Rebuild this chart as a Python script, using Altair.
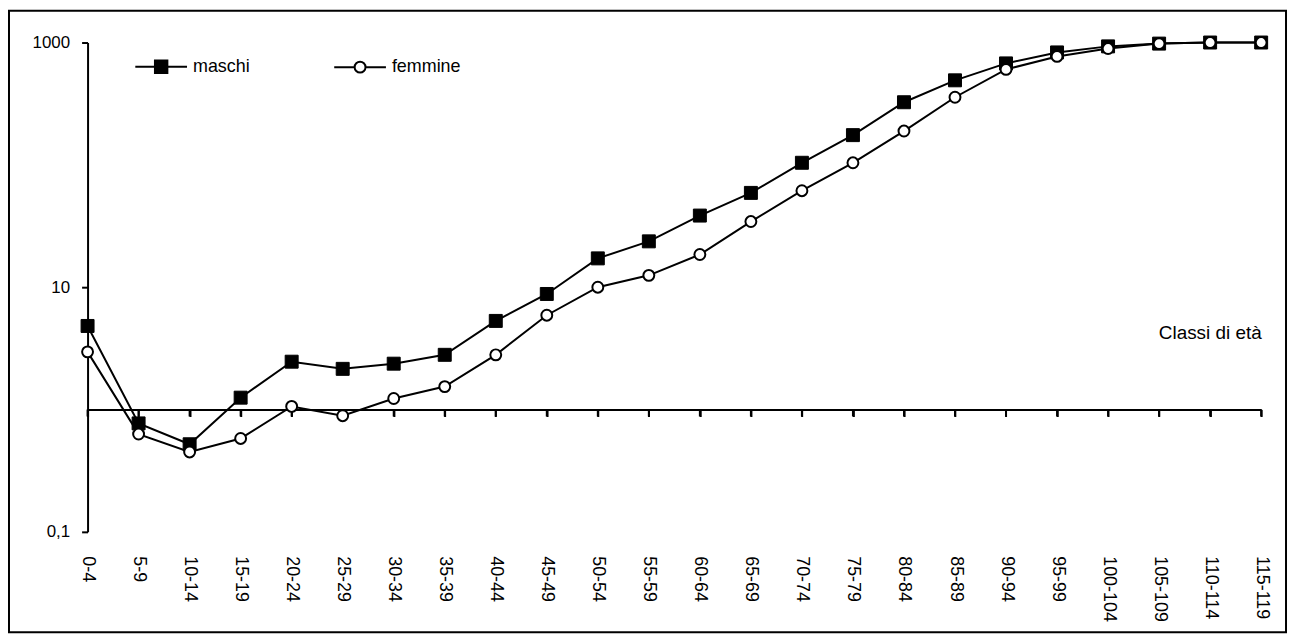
import altair as alt
import pandas as pd

classi = ["0-4", "5-9", "10-14", "15-19", "20-24", "25-29", "30-34", "35-39",
          "40-44", "45-49", "50-54", "55-59", "60-64", "65-69", "70-74", "75-79",
          "80-84", "85-89", "90-94", "95-99", "100-104", "105-109", "110-114", "115-119"]
maschi = [4.82, 0.77, 0.52, 1.25, 2.46, 2.15, 2.37, 2.80, 5.3, 8.8, 17.2, 23.7,
          38.5, 59, 104, 175, 325, 491, 675, 830, 930, 980, 1000, 1000]
femmine = [2.96, 0.63, 0.45, 0.58, 1.06, 0.89, 1.23, 1.54, 2.8, 5.9, 10.0, 12.5,
           18.5, 34.4, 61.5, 104, 189, 357, 603, 770, 893, 980, 1000, 1000]
y_ticks = [0.1, 10, 1000]
serie = ["maschi", "femmine"]

rows = []
for c, m, f in zip(classi, maschi, femmine):
    rows.append({"classe": c, "serie": "maschi", "valore": m})
    rows.append({"classe": c, "serie": "femmine", "valore": f})
df = pd.DataFrame(rows)
df_cat = pd.DataFrame({"classe": classi})

FONT = "Liberation Sans"
W, H = 1180, 492
Y1 = H * 3 / 4  # pixel position of value 1 on the log axis (0.1..1000)

x_enc = alt.X("classe:N", sort=classi,
              scale=alt.Scale(domain=classi, type="point", padding=0),
              axis=alt.Axis(orient="bottom", offset=-123, labelAngle=90,
                            labelPadding=140, ticks=True, tickSize=7, tickWidth=2,
                            domainWidth=2, domainColor="black", tickColor="black",
                            labelFont=FONT, labelFontSize=18, labelColor="black",
                            title="Classi di età", titleFont=FONT, titleFontSize=19,
                            titleFontWeight="normal", titleColor="black",
                            titleAngle=0, titleAlign="right", titleBaseline="middle",
                            titleX=W, titleY=-77, grid=False))
y_enc = alt.Y("valore:Q",
              scale=alt.Scale(type="log", domain=[0.1, 1000], nice=False),
              axis=alt.Axis(values=y_ticks, format="~g",
                            labelExpr="replace(datum.label, '.', ',')",
                            ticks=True, tickSize=6, tickWidth=2, domainWidth=2,
                            domainColor="black", tickColor="black",
                            labelFont=FONT, labelFontSize=17, labelColor="black",
                            labelPadding=12, title=None, grid=False))

base = alt.Chart(df)

lines = base.mark_line(color="black", strokeWidth=2).encode(
    x=x_enc, y=y_enc, detail="serie:N")

sq = base.transform_filter(alt.datum.serie == "maschi").mark_point(
    shape="square", filled=True, fill="black", stroke="black", strokeWidth=1,
    size=170, opacity=1).encode(x=x_enc, y=y_enc)

ci = base.transform_filter(alt.datum.serie == "femmine").mark_point(
    shape="circle", filled=True, fill="white", stroke="black", strokeWidth=2,
    size=120, opacity=1).encode(x=x_enc, y=y_enc)

ticks = alt.Chart(df_cat).mark_rule(color="black", strokeWidth=2).encode(
    x=alt.X("classe:N", sort=classi), y=alt.value(Y1), y2=alt.value(Y1 + 7))

path_m = "M-1,0H1M-0.24,-0.24H0.24V0.24H-0.24Z"
path_f = "M-1,0H-0.21M0.21,0H1M-0.21,0A0.21,0.21,0,1,1,0.21,0A0.21,0.21,0,1,1,-0.21,0Z"

legend_def = alt.Legend(orient="none", legendX=47, legendY=-3,
                        direction="horizontal", title=None,
                        labelFont=FONT, labelFontSize=18,
                        labelColor="black", labelOffset=5,
                        columnPadding=80, padding=0,
                        symbolSize=2704, symbolStrokeColor="black",
                        symbolStrokeWidth=2, symbolOpacity=1)

leg = base.mark_point(size=0, filled=False, strokeWidth=2, opacity=1).encode(
    x=x_enc, y=y_enc,
    shape=alt.Shape("serie:N", scale=alt.Scale(domain=serie, range=[path_m, path_f]),
                    legend=legend_def),
    fill=alt.Fill("serie:N", scale=alt.Scale(domain=serie, range=["black", "white"]),
                  legend=legend_def),
    stroke=alt.Stroke("serie:N", scale=alt.Scale(domain=serie, range=["black", "black"]),
                      legend=legend_def),
)

border = alt.Chart(pd.DataFrame({"b": [0]})).mark_rect(
    fill="transparent", stroke="black", strokeWidth=2).encode(
    x=alt.value(-79), x2=alt.value(1205), y=alt.value(-32), y2=alt.value(593))

chart = alt.layer(border, lines, ticks, leg, sq, ci).properties(
    width=W, height=H,
    padding={"left": 80, "top": 33, "right": 27, "bottom": 103},
    autosize=alt.AutoSizeParams(type="none"),
).configure(background="white").configure_view(stroke="transparent", strokeWidth=0)

chart.save("out.html", embed_options={"renderer": "svg", "actions": False})
